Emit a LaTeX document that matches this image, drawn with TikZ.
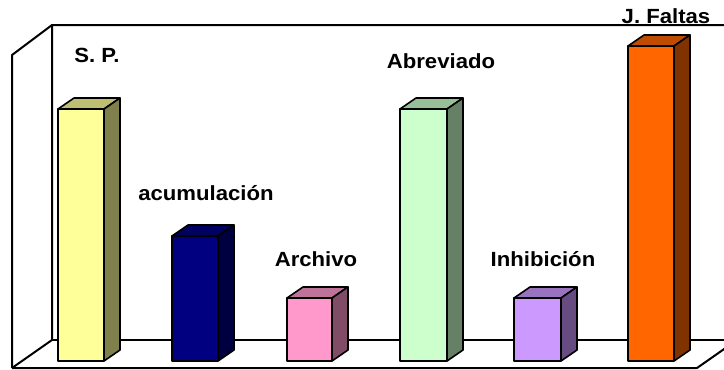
\documentclass[tikz,border=0pt]{standalone}
\usepackage{fontspec}
\setmainfont{Liberation Sans}
\usetikzlibrary{calc}
\tikzset{
  frameline/.style={line width=2pt, black, line join=round},
  barline/.style={line width=1.6pt, black, line join=round},
  barlabel/.style={anchor=base, inner sep=0pt, font=\fontsize{20.5}{24}\selectfont\bfseries}
}
\newcommand\drawbar[5]{% name, x0, x1, ytop, colour
  \coordinate (#1fl) at (#2,361);
  \coordinate (#1ft) at (#2,#4);
  \coordinate (#1fr) at (#3,#4);
  \coordinate (#1br) at (#3,361);
  \fill[#5] (#1fl) rectangle (#1fr);
  \filldraw[barline, fill=#5!75!black] (#1ft) -- ++(16,-11) -- ($(#1fr)+(16,-11)$) -- (#1fr) -- cycle;
  \filldraw[barline, fill=#5!50!black] (#1fr) -- ++(16,-11) -- ($(#1br)+(16,-11)$) -- (#1br) -- cycle;
  \draw[barline] (#1fl) rectangle (#1fr);
}
\definecolor{cSP}{HTML}{FFFF99}
\definecolor{cAcu}{HTML}{000080}
\definecolor{cArc}{HTML}{FF99CC}
\definecolor{cAbr}{HTML}{CCFFCC}
\definecolor{cInh}{HTML}{CC99FF}
\definecolor{cJF}{HTML}{FF6600}
\begin{document}
\begin{tikzpicture}[x=1pt,y=-1pt]
\useasboundingbox (0,0) rectangle (724,370);
\fill[white] (0,0) rectangle (724,370);
\begin{scope}
\clip (0,0) rectangle (724,370);
% frame
\coordinate (bwtl) at (52,25);
\coordinate (bwbl) at (52,340);
\coordinate (lwtl) at (12,55);
\coordinate (lwbl) at (12,368);
\coordinate (flr) at (697,368);
\draw[frameline] (lwbl) -- (lwtl) -- (bwtl) -- (760,25);
\draw[frameline] (bwtl) -- (bwbl) -- (lwbl);
\draw[frameline] (bwbl) -- (760,340);
\draw[frameline] (lwbl) -- (flr) -- ++(40,-28);
% bars
\drawbar{a}{58}{104}{109}{cSP}
\drawbar{b}{172}{218}{236}{cAcu}
\drawbar{c}{287}{332}{298}{cArc}
\drawbar{d}{400}{447}{109}{cAbr}
\drawbar{e}{514}{561}{298}{cInh}
\drawbar{f}{628}{674}{46}{cJF}
\end{scope}
% labels
\node[barlabel] (lSP) at (97,62.5) {\scalebox{1.08}[1]{S. P.}};
\node[barlabel] (lAcu) at (206,200.5) {\scalebox{1.08}[1]{acumulación}};
\node[barlabel] (lArc) at (316,266) {\scalebox{1.08}[1]{Archivo}};
\node[barlabel] (lAbr) at (441,68) {\scalebox{1.08}[1]{Abreviado}};
\node[barlabel] (lInh) at (543,266) {\scalebox{1.08}[1]{Inhibición}};
\node[barlabel] (lJF) at (666,23) {\scalebox{1.08}[1]{J. Faltas}};
\end{tikzpicture}
\end{document}
